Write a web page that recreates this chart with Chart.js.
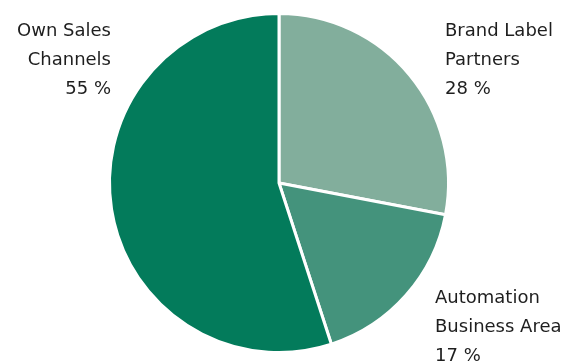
<!DOCTYPE html>
<html>
<head>
<meta charset="utf-8">
<script src="https://cdn.jsdelivr.net/npm/chart.js@4/dist/chart.umd.min.js"></script>
<style>
  html, body { margin: 0; padding: 0; background: #fff; }
  #wrap { width: 572px; height: 361px; position: relative; }
</style>
</head>
<body>
<div id="wrap"><canvas id="pie"></canvas></div>
<script>
// Segments, clockwise from 12 o'clock
const segments = ['Brand Label Partners', 'Automation Business Area', 'Own Sales Channels'];
const shares = [28, 17, 55];
const sliceColors = ['#82ae9c', '#44937c', '#037b5b'];

// Label text lines per segment
const labelLines = [
    ['Brand Label', 'Partners'],
    ['Automation', 'Business Area'],
    ['Own Sales', 'Channels']
];

// Label anchors (x, first baseline y, alignment)
const labelSpots = [
    { x: 445, y: 36, align: 'left' },
    { x: 435, y: 303, align: 'left' },
    { x: 111, y: 36, align: 'right' }
];

const outsideLabels = {
    id: 'outsideLabels',
    afterDraw(chart) {
        const ctx = chart.ctx;
        ctx.save();
        ctx.font = '18px "DejaVu Sans", sans-serif';
        ctx.fillStyle = '#1e1e1e';
        ctx.textBaseline = 'alphabetic';
        labelSpots.forEach((spot, i) => {
            ctx.textAlign = spot.align;
            const lines = [...labelLines[i], shares[i] + ' %'];
            lines.forEach((line, j) => {
                ctx.fillText(line, spot.x, spot.y + j * 29);
            });
        });
        ctx.restore();
    }
};

new Chart(document.getElementById('pie'), {
    type: 'pie',
    data: {
        labels: segments,
        datasets: [{
            data: shares,
            backgroundColor: sliceColors,
            borderColor: '#ffffff',
            borderWidth: 3
        }]
    },
    options: {
        responsive: true,
        maintainAspectRatio: false,
        animation: false,
        layout: {
            padding: { left: 108, right: 122, top: 12, bottom: 7 }
        },
        plugins: {
            legend: { display: false },
            tooltip: { enabled: false }
        }
    },
    plugins: [outsideLabels]
});
</script>
</body>
</html>
